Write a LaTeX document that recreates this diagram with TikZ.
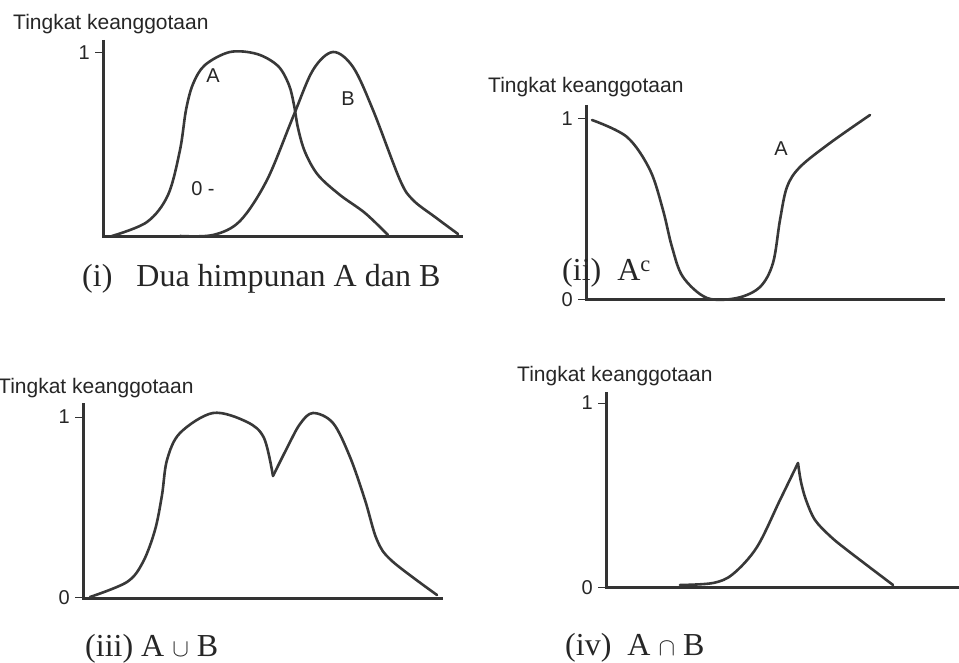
\documentclass[tikz,border=0pt]{standalone}
\usepackage{fontspec}
\setmainfont{Liberation Serif}
\newfontfamily\sansf{Liberation Sans}
\begin{document}
\begin{tikzpicture}[x=1pt,y=-1pt,
 axis/.style={line width=3pt, draw=black!80},
 curve/.style={line width=2.6pt, draw=black!78, line join=round, line cap=round},
 tickmark/.style={line width=1pt, draw=black!80},
 ttl/.style={font=\sansf\fontsize{21}{24}\selectfont, anchor=base west, inner sep=0, text=black!85},
 num/.style={font=\sansf\fontsize{20}{24}\selectfont, anchor=east, inner sep=0, text=black!85},
 lbl/.style={font=\sansf\fontsize{20}{24}\selectfont, inner sep=0, text=black!85},
 capt/.style={font=\fontsize{32}{36}\selectfont, anchor=base west, inner sep=0, text=black!85}]
\useasboundingbox (0,0) rectangle (959,663);

% ---------- Panel (i) ----------
\node[ttl] (t1) at (13,30) {Tingkat keanggotaan};
\coordinate (o1) at (103,237);
\coordinate (y1) at (103,40);
\coordinate (x1) at (463,237);
\draw[axis] (y1) -- (o1) -- (x1);
\coordinate (k1) at (95,53);
\draw[tickmark] (k1) -- (103,53);
\node[num] (n1a) at (90,53) {1};
\draw[curve] plot[smooth, tension=0.55] coordinates {(112,236) (147,222) (168,195) (180,150) (186,110) (193,84) (205,65) (230,52) (257,54) (278,66) (289,85) (294,105) (298,128) (305,152) (318,175) (340,195) (365,213) (388,235)};
\draw[curve] plot[smooth, tension=0.55] coordinates {(180,236) (213,235) (240,221) (267,180) (293,117) (313,70) (333,52) (353,67) (373,110) (400,180) (413,200) (435,217) (458,234)};
\node[lbl] (la) at (213,76) {A};
\node[lbl] (lb) at (348,99) {B};
\node[lbl] (lz) at (203,189) {0 -};
\node[capt] (c1) at (82,287) {(i)\hspace{0.75em}Dua himpunan A dan B};

% ---------- Panel (ii) ----------
\node[ttl] (t2) at (488,93) {Tingkat keanggotaan};
\coordinate (o2) at (586,300);
\coordinate (y2) at (586,105);
\coordinate (x2) at (945,300);
\draw[axis] (y2) -- (o2) -- (x2);
\draw[tickmark] (578,119) -- (586,119);
\draw[tickmark] (578,300) -- (586,300);
\node[num] (n2a) at (573,119) {1};
\node[num] (n2b) at (573,300) {0};
\draw[curve] plot[smooth, tension=0.55] coordinates {(592,120) (627,137) (650,170) (663,210) (672,247) (683,277) (707,298) (737,298) (760,287) (773,263) (780,220) (787,187) (800,167) (830,143) (870,115)};
\node[lbl] (la2) at (781,149) {A};
\node[capt] (c2) at (562,281) {(ii)\hspace{0.5em}A\textsuperscript{c}};

% ---------- Panel (iii) ----------
\node[ttl] (t3) at (-2,393) {Tingkat keanggotaan};
\coordinate (o3) at (83,598);
\coordinate (y3) at (83,403);
\coordinate (x3) at (443,598);
\draw[axis] (y3) -- (o3) -- (x3);
\draw[tickmark] (75,417) -- (83,417);
\draw[tickmark] (75,597) -- (83,597);
\node[num] (n3a) at (70,417) {1};
\node[num] (n3b) at (70,598) {0};
\draw[curve] plot[smooth, tension=0.55] coordinates {(90,597) (127,582) (143,562) (155,530) (162,495) (167,460) (180,433) (213,413) (247,422) (264,438) (273,476)};
\draw[curve] plot[smooth, tension=0.55] coordinates {(273,476) (287,448) (300,424) (313,413) (333,423) (350,457) (365,500) (377,540) (392,561) (437,595)};
\node[capt] (c3) at (85,656) {(iii) A $\cup$ B};

% ---------- Panel (iv) ----------
\node[ttl] (t4) at (517,381) {Tingkat keanggotaan};
\coordinate (o4) at (606,587);
\coordinate (y4) at (606,392);
\coordinate (x4) at (959,587);
\draw[axis] (y4) -- (o4) -- (x4);
\draw[tickmark] (598,403) -- (606,403);
\draw[tickmark] (598,587) -- (606,587);
\node[num] (n4a) at (593,403) {1};
\node[num] (n4b) at (593,588) {0};
\draw[curve] plot[smooth, tension=0.55] coordinates {(680,585) (713,583) (733,574) (757,547) (780,500) (798,463)};
\draw[curve] plot[smooth, tension=0.55] coordinates {(798,463) (801,482) (806,500) (815,520) (830,536) (847,550) (893,585)};
\node[capt] (c4) at (565,655) {(iv)\hspace{0.5em}A $\cap$ B};
\end{tikzpicture}
\end{document}
